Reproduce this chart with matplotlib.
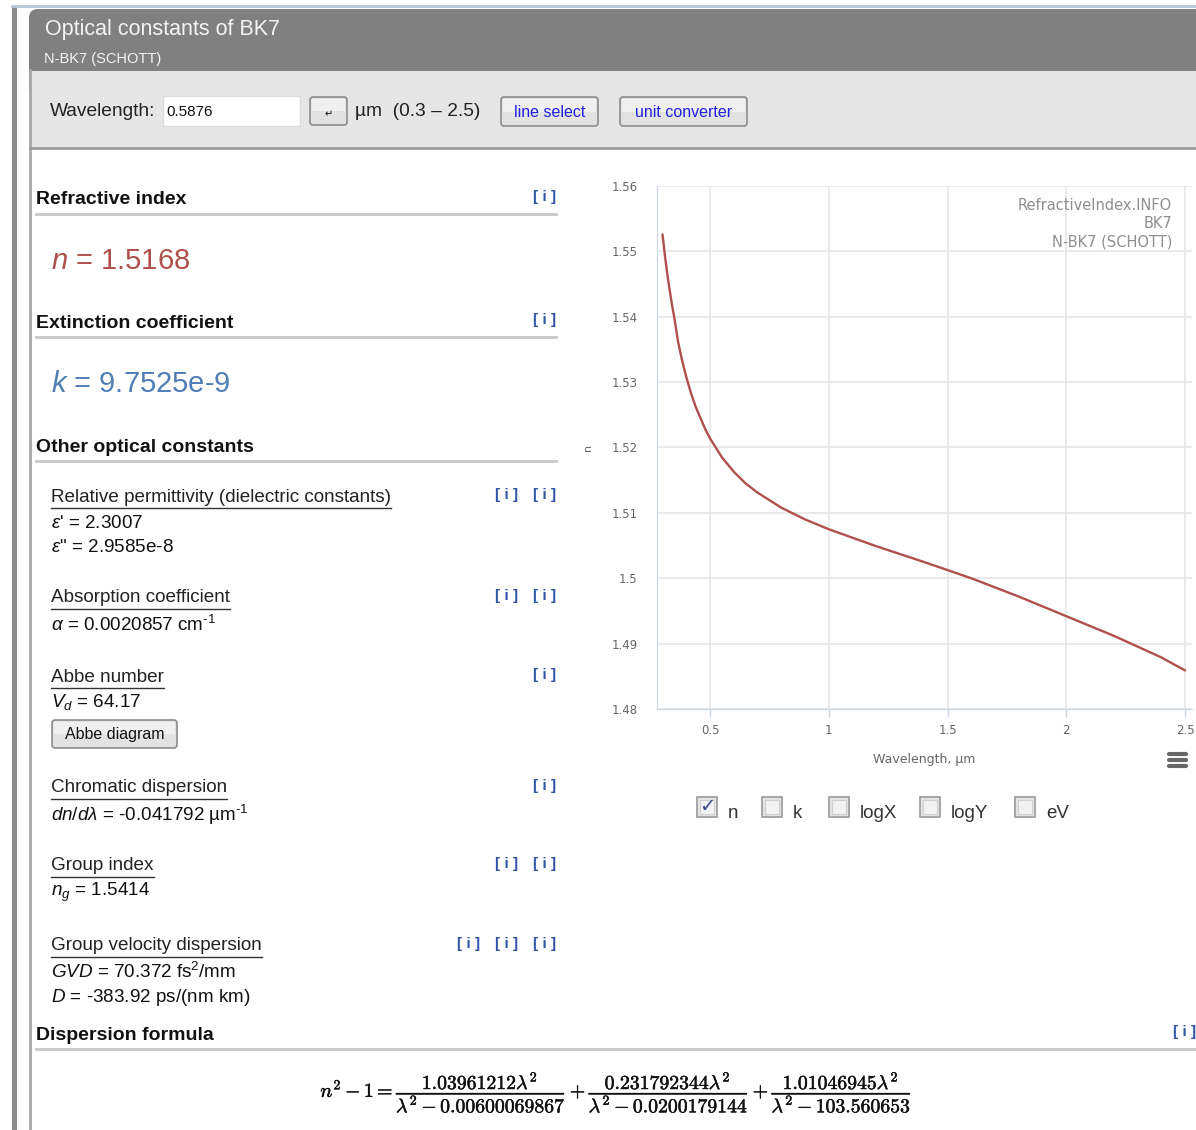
import matplotlib
matplotlib.use('Agg')
import matplotlib.pyplot as plt
import matplotlib.patheffects as pe
from matplotlib.patches import FancyBboxPatch, Rectangle

plt.rcParams['font.family'] = ['Liberation Sans', 'DejaVu Sans']
plt.rcParams['mathtext.fontset'] = 'custom'
plt.rcParams['mathtext.rm'] = 'Liberation Sans'
plt.rcParams['mathtext.it'] = 'Liberation Sans:italic'
plt.rcParams['mathtext.bf'] = 'Liberation Sans:bold'

# n(lambda)
wavelength = [0.30, 0.31, 0.32, 0.33, 0.34, 0.35, 0.365, 0.38, 0.40, 0.42,
              0.44, 0.46, 0.48, 0.50, 0.55, 0.60, 0.65, 0.70, 0.80, 0.90,
              1.00, 1.10, 1.20, 1.40, 1.60, 1.80, 2.00, 2.20, 2.40, 2.50]
n_values = [1.5526, 1.5494, 1.5466, 1.5441, 1.5418, 1.5398, 1.5363, 1.5337, 1.5308, 1.5283,
            1.5262, 1.5245, 1.5228, 1.5214, 1.5185, 1.5163, 1.5145, 1.5131, 1.5108, 1.5090,
            1.5075, 1.5062, 1.5049, 1.5025, 1.5000, 1.4972, 1.4942, 1.4912, 1.4879, 1.4859]
x_ticks = [0.5, 1, 1.5, 2, 2.5]
x_ticklabels = ['0.5', '1', '1.5', '2', '2.5']
y_ticks = [1.48, 1.49, 1.5, 1.51, 1.52, 1.53, 1.54, 1.55, 1.56]
y_ticklabels = ['1.48', '1.49', '1.5', '1.51', '1.52', '1.53', '1.54', '1.55', '1.56']

credits = ['RefractiveIndex.INFO', 'BK7', 'N-BK7 (SCHOTT)']
checkboxes = ['n', 'k', 'logX', 'logY', 'eV']
checked = [True, False, False, False, False]

W, H = 1196, 1130
fig = plt.figure(figsize=(W / 100, H / 100), dpi=100)
bg = fig.add_axes([0, 0, 1, 1])
bg.set_xlim(0, W)
bg.set_ylim(H, 0)
bg.axis('off')
renderer = fig.canvas.get_renderer()

# page frame
bg.add_patch(Rectangle((12, 6), 5, H, fc='#8a8a8a', ec='none'))
bg.plot([12, W], [6, 6], color='#b9c6d8', lw=2)
bg.plot([30, 30], [70, H], color='#a8a8a8', lw=2)

# header
bg.add_patch(FancyBboxPatch((29, 9), W, 90, boxstyle='round,pad=0,rounding_size=9',
                            fc='#808080', ec='none'))
bg.add_patch(Rectangle((31, 71), W, 77, fc='#e6e6e6', ec='none'))
bg.plot([30, W], [148, 148], color='#9a9a9a', lw=2)
bg.text(45, 29, 'Optical constants of BK7', fontsize=15.5, color='#f4f4f4', va='center')
bg.text(44, 59, 'N-BK7 (SCHOTT)', fontsize=10.5, color='#f4f4f4', va='center')


def button(x0, y0, x1, y1, label, color, size):
    bg.add_patch(FancyBboxPatch((x0, y0), x1 - x0, y1 - y0,
                                boxstyle='round,pad=0,rounding_size=3',
                                fc='#e2e2e2', ec='#8c8c8c', lw=1.2))
    bg.add_patch(Rectangle((x0 + 2, y0 + 2), x1 - x0 - 4, (y1 - y0) / 2 - 2,
                           fc='#f0f0f0', ec='none'))
    bg.text((x0 + x1) / 2, (y0 + y1) / 2 + 1, label, fontsize=size, color=color,
            ha='center', va='center')


bg.text(50, 111, 'Wavelength:', fontsize=13.8, color='#222222', va='center')
bg.add_patch(Rectangle((163, 96), 137, 30, fc='white', ec='#dddddd', lw=1))
bg.text(166, 112, '0.5876', fontsize=11, color='#111111', va='center')
button(310, 97, 347, 125, '', '#111111', 8)
bg.text(329, 114, '\u21b5', fontsize=7, color='#111111', ha='center', va='center',
        family='DejaVu Sans')
bg.text(355, 111, '\u00b5m  (0.3 \u2013 2.5)', fontsize=13.8, color='#222222', va='center')
button(501, 97, 598, 126, 'line select', '#2020e0', 11.5)
button(620, 97, 747, 126, 'unit converter', '#2020e0', 11.5)


def info(y, count):
    for i in range(count):
        bg.text(556 - 38 * i, y, '[ i ]', fontsize=11, color='#2f55a8', ha='right',
                va='center', fontweight='bold')


def section(y, title, count=1, right=556):
    bg.text(36, y, title, fontsize=14, fontweight='bold', color='#111111', va='center')
    bg.plot([36, right], [y + 14, y + 14], color='#c8c8c8', lw=2)
    if count:
        bg.text(556 if right < W else 1196, y - 3, '[ i ]', fontsize=11,
                color='#2f55a8', ha='right', va='center', fontweight='bold')


def link(y, title, count):
    t = bg.text(51, y, title, fontsize=13.6, color='#222222', va='center')
    bb = t.get_window_extent(renderer)
    bg.plot([51, 51 + bb.width], [y + 11, y + 11], color='#333333', lw=1)
    info(y - 2, count)


section(200, 'Refractive index')
bg.text(51, 261, r'$n$ = 1.5168', fontsize=21, color='#b0504a', va='center')
section(323, 'Extinction coefficient')
bg.text(51, 384, r'$k$ = 9.7525e-9', fontsize=21, color='#4f7db5', va='center')
section(447, 'Other optical constants', count=0)

link(497, 'Relative permittivity (dielectric constants)', 2)
bg.text(51, 523, r"$\varepsilon$' = 2.3007", fontsize=13.6, color='#111111', va='center')
bg.text(51, 548, r'$\varepsilon$" = 2.9585e-8', fontsize=13.6, color='#111111', va='center')

link(598, 'Absorption coefficient', 2)
bg.text(51, 625, r'$\alpha$ = 0.0020857 cm$^{\text{-1}}$', fontsize=13.6, color='#111111',
        va='center')

link(677, 'Abbe number', 1)
bg.text(51, 702, r'$V_d$ = 64.17', fontsize=13.6, color='#111111', va='center')
button(52, 720, 177, 748, 'Abbe diagram', '#111111', 11.5)

link(788, 'Chromatic dispersion', 1)
bg.text(51, 815, '$dn/d\\lambda$ = -0.041792 \u00b5m$^{\\text{-1}}$',
        fontsize=13.6, color='#111111', va='center')

link(866, 'Group index', 2)
bg.text(51, 892, r'$n_g$ = 1.5414', fontsize=13.6, color='#111111', va='center')

link(946, 'Group velocity dispersion', 3)
bg.text(51, 972, r'$GVD$ = 70.372 fs$^2$/mm', fontsize=13.6, color='#111111', va='center')
bg.text(51, 998, r'$D$ = -383.92 ps/(nm km)', fontsize=13.6, color='#111111', va='center')

section(1035, 'Dispersion formula', right=W)
formula = (r'$n^2-1=\dfrac{1.03961212\lambda^2}{\lambda^2-0.00600069867}'
           r'+\dfrac{0.231792344\lambda^2}{\lambda^2-0.0200179144}'
           r'+\dfrac{1.01046945\lambda^2}{\lambda^2-103.560653}$')
bg.text(616, 1092, formula, fontsize=14.2, ha='center', va='center', color='#111111',
        math_fontfamily='cm',
        path_effects=[pe.withStroke(linewidth=0.35, foreground='#111111')])

# chart
x0, x1, y0, y1 = 657, 1192, 186, 709
ax = fig.add_axes([x0 / W, 1 - y1 / H, (x1 - x0) / W, (y1 - y0) / H])
ax.patch.set_alpha(0)
ax.plot(wavelength, n_values, color='#b0504c', lw=1.7, solid_capstyle='round')
ax.set_xlim(0.2768, 2.5295)
ax.set_ylim(1.48, 1.56)
ax.set_xticks(x_ticks)
ax.set_xticklabels(x_ticklabels)
ax.set_yticks(y_ticks)
ax.set_yticklabels(y_ticklabels)
ax.grid(True, color='#e6e6e6', lw=1.2)
ax.set_axisbelow(True)
for side in ['top', 'right']:
    ax.spines[side].set_visible(False)
for side in ['left', 'bottom']:
    ax.spines[side].set_color('#ccd6eb')
ax.tick_params(axis='x', length=6, width=1, color='#ccd6eb', pad=5, labelsize=8.5,
               labelcolor='#666666')
ax.tick_params(axis='y', length=0, pad=14, labelsize=8.5, labelcolor='#666666')
for lab in ax.get_xticklabels() + ax.get_yticklabels():
    lab.set_family('DejaVu Sans')
ax.set_ylabel('n', fontsize=8, color='#666666', family='DejaVu Sans')
ax.yaxis.set_label_coords(-(x0 - 593) / (x1 - x0), 0.5)
ax.set_xlabel('Wavelength, \u00b5m', fontsize=9, color='#666666', family='DejaVu Sans')
ax.xaxis.set_label_coords(0.5, -(759 - y1) / (y1 - y0))
ax.xaxis.label.set_va('center')

for i, s in enumerate(credits):
    fig.text(1172, 205 + 18.5 * i, s, fontsize=10.5, color='#8f8f8f', ha='right', va='center',
             family='DejaVu Sans', transform=bg.transData)

for yy in [754, 760, 766]:
    bg.plot([1169, 1186], [yy, yy], color='#666666', lw=3, solid_capstyle='round')

# checkboxes under the chart
box_x = [697, 762, 829, 920, 1015]
for bx, label, on in zip(box_x, checkboxes, checked):
    bg.add_patch(Rectangle((bx, 797), 20, 20, fc='#e4e4e4', ec='#9a9a9a', lw=1.2))
    bg.add_patch(Rectangle((bx + 3, 800), 14, 14, fc='#f2f2f2', ec='#d0d0d0', lw=0.8))
    if on:
        bg.text(bx + 10, 806, '\u2713', fontsize=14, color='#3a4a8f', ha='center',
                va='center', family='DejaVu Sans', fontweight='bold')
    bg.text(bx + 31, 813, label, fontsize=13.5, color='#333333', va='center')

fig.savefig('out.png', dpi=100)
